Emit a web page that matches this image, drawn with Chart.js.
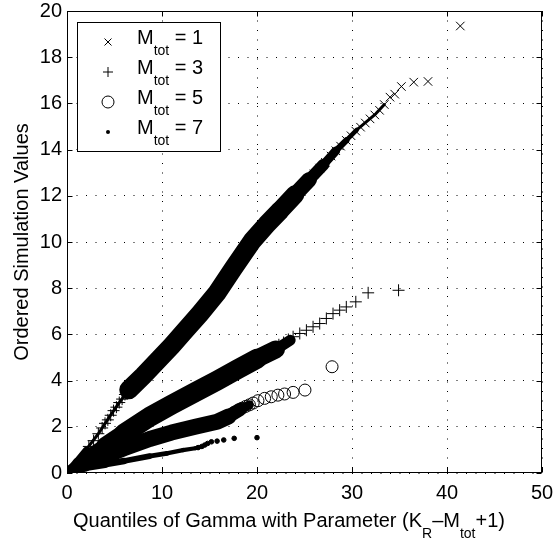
<!DOCTYPE html>
<html>
<head>
<meta charset="utf-8">
<script src="https://cdn.jsdelivr.net/npm/chart.js"></script>
<style>
  html, body { margin: 0; padding: 0; background: #fff; }
  canvas { display: block; }
</style>
</head>
<body>
<canvas id="qq" width="555" height="540"></canvas>
<script>
// axis ticks
var xTicks = [0, 10, 20, 30, 40, 50];
var yTicks = [0, 2, 4, 6, 8, 10, 12, 14, 16, 18, 20];

// legend values of M_tot
var mTot = ['1', '3', '5', '7'];

// M_tot = 1 (x): centre of the dense band, then the separate markers
var m1Band = [[0, 0], [1, 0.5], [2, 1.0], [3.3, 1.7], [4.5, 2.45], [5.5, 3.05], [6.5, 3.6], [8, 4.2],
  [9.5, 4.85], [11, 5.5], [12.5, 6.2], [14, 6.9], [15.8, 7.8], [17.5, 8.85], [19.5, 10.05], [21, 10.75],
  [22.4, 11.35], [24, 12.05], [25.5, 12.7], [27, 13.35], [28.3, 13.95], [29.4, 14.4], [30.5, 14.85],
  [31.5, 15.2], [32.5, 15.55], [33.4, 15.95]];
var m1Marks = [[26.0, 12.95], [26.6, 13.2], [27.2, 13.45], [27.8, 13.72], [28.3, 13.95], [28.8, 14.15],
  [29.4, 14.4], [29.9, 14.6], [30.4, 14.8], [30.9, 14.97], [31.4, 15.15], [31.9, 15.33], [32.4, 15.5],
  [32.9, 15.7], [33.4, 15.95], [34.0, 16.27], [34.5, 16.4], [35.2, 16.73], [36.5, 16.92], [38.0, 16.95],
  [41.4, 19.35]];

// M_tot = 3 (+)
var m3Band = [[0, 0], [2, 0.6], [4, 1.15], [6, 1.7], [8.7, 2.43], [11, 2.95], [13.5, 3.5], [15.8, 4.0],
  [18, 4.5], [20, 4.95], [22, 5.35], [23.5, 5.75]];
var m3Marks = [[2.3, 1.15], [2.8, 1.4], [3.3, 1.7], [3.7, 1.95], [4.0, 2.15], [4.3, 2.3], [4.6, 2.5],
  [4.9, 2.7], [5.2, 2.85], [5.5, 3.05], [5.8, 3.2], [6.1, 3.4], [6.4, 3.55],
  [21.8, 5.4], [22.3, 5.55], [22.8, 5.65], [23.3, 5.78], [23.8, 5.9], [24.5, 6.04], [25.2, 6.18],
  [25.9, 6.33], [26.6, 6.47], [27.3, 6.69], [28.0, 6.9], [28.7, 7.05], [29.4, 7.19], [30.4, 7.41],
  [31.7, 7.8], [34.9, 7.91]];

// M_tot = 5 (o)
var m5Band = [[0, 0], [2, 0.4], [4, 0.75], [6, 1.07], [8.7, 1.47], [11, 1.75], [13.5, 2.0], [15.8, 2.22],
  [17, 2.45], [18.2, 2.75], [19.2, 2.95]];
var m5Marks = [[17.6, 2.62], [18.0, 2.7], [18.4, 2.8], [18.8, 2.88], [19.2, 2.95], [19.6, 3.03],
  [20.1, 3.13], [20.8, 3.23], [21.5, 3.3], [22.2, 3.37], [22.9, 3.42], [23.8, 3.49], [25.05, 3.59],
  [27.9, 4.6]];

// M_tot = 7 (.)
var m7Band = [[0, 0.08], [2, 0.25], [4, 0.38], [6, 0.52], [8.7, 0.73], [10.5, 0.85], [12.2, 0.99],
  [13.5, 1.07], [14.2, 1.14]];
var m7Marks = [[13.8, 1.1], [14.2, 1.15], [14.5, 1.21], [14.8, 1.28], [15.2, 1.35], [15.8, 1.38],
  [16.5, 1.43], [17.6, 1.5], [20.0, 1.53]];

var FONT = '"Liberation Sans", Arial, Helvetica, sans-serif';
var MAIN = 20, SUB = 14;

// thickness (px) of each dense band along x
var bandWidths = {
  m1: [[0, 7], [1.8, 6], [2.2, 3], [6.2, 3], [6.8, 19], [23, 19], [25, 15], [27, 10], [29, 6], [31, 3]],
  m3: [[0, 8], [2, 14], [6, 20], [20.5, 20], [22.5, 12], [24, 5]],
  m5: [[0, 6], [2, 12], [5, 16], [17, 16], [18.5, 10], [19.5, 5]],
  m7: [[0, 9], [4, 7], [9, 5], [14, 4]]
};

function toPts(arr) {
  return arr.map(function (p) { return { x: p[0], y: p[1] }; });
}

function widthAt(profile, x) {
  if (x <= profile[0][0]) return profile[0][1];
  for (var i = 1; i < profile.length; i++) {
    if (x <= profile[i][0]) {
      var a = profile[i - 1], b = profile[i];
      return a[1] + (b[1] - a[1]) * (x - a[0]) / (b[0] - a[0]);
    }
  }
  return profile[profile.length - 1][1];
}

function band(data, profile) {
  return {
    data: toPts(data),
    showLine: true,
    pointRadius: 0,
    pointHoverRadius: 0,
    borderColor: '#000',
    borderWidth: profile[0][1],
    borderCapStyle: 'round',
    borderJoinStyle: 'round',
    segment: {
      borderWidth: function (ctx) {
        return widthAt(profile, (ctx.p0.parsed.x + ctx.p1.parsed.x) / 2);
      }
    }
  };
}

function marks(data, style, radius, fill) {
  return {
    data: toPts(data),
    showLine: false,
    pointStyle: style,
    pointRadius: radius,
    pointHoverRadius: radius,
    borderColor: '#000',
    borderWidth: 1,
    backgroundColor: fill
  };
}

// subscripted text: parts are [text, isSub]
function richWidth(ctx, parts) {
  var w = 0;
  parts.forEach(function (p) {
    ctx.font = (p[1] ? SUB : MAIN) + 'px ' + FONT;
    w += ctx.measureText(p[0]).width;
  });
  return w;
}
function richText(ctx, parts, x, y) {
  parts.forEach(function (p) {
    ctx.font = (p[1] ? SUB : MAIN) + 'px ' + FONT;
    ctx.fillText(p[0], x, y + (p[1] ? 11 : 0));
    x += ctx.measureText(p[0]).width;
  });
}

function drawSymbol(ctx, kind, x, y) {
  ctx.beginPath();
  if (kind === 0) {
    ctx.moveTo(x - 3.5, y - 3.5); ctx.lineTo(x + 3.5, y + 3.5);
    ctx.moveTo(x + 3.5, y - 3.5); ctx.lineTo(x - 3.5, y + 3.5);
    ctx.stroke();
  } else if (kind === 1) {
    ctx.moveTo(x - 5, y); ctx.lineTo(x + 5, y);
    ctx.moveTo(x, y - 5); ctx.lineTo(x, y + 5);
    ctx.stroke();
  } else if (kind === 2) {
    ctx.arc(x, y, 6, 0, Math.PI * 2);
    ctx.stroke();
  } else {
    ctx.arc(x, y, 2, 0, Math.PI * 2);
    ctx.fill();
  }
}

var frame = {
  id: 'frame',
  afterDraw: function (chart) {
    var ctx = chart.ctx, a = chart.chartArea;
    var xs = chart.scales.x, ys = chart.scales.y;
    ctx.save();
    ctx.strokeStyle = '#000';
    ctx.fillStyle = '#000';
    ctx.lineWidth = 1;
    var L = Math.round(a.left) + 0.5, R = Math.round(a.right) - 0.5;
    var T = Math.round(a.top) + 0.5, B = Math.round(a.bottom) - 0.5;
    ctx.strokeRect(L, T, R - L, B - T);
    // inward ticks on all four sides
    ctx.beginPath();
    xTicks.forEach(function (v) {
      var px = Math.round(xs.getPixelForValue(v)) + 0.5;
      ctx.moveTo(px, B); ctx.lineTo(px, B - 5);
      ctx.moveTo(px, T); ctx.lineTo(px, T + 5);
    });
    yTicks.forEach(function (v) {
      var py = Math.round(ys.getPixelForValue(v)) + 0.5;
      ctx.moveTo(L, py); ctx.lineTo(L + 5, py);
      ctx.moveTo(R, py); ctx.lineTo(R - 5, py);
    });
    ctx.stroke();

    // legend
    ctx.fillStyle = '#fff';
    ctx.fillRect(77.5, 22.5, 143, 129);
    ctx.strokeRect(77.5, 22.5, 143, 129);
    ctx.fillStyle = '#000';
    ctx.textAlign = 'left';
    ctx.textBaseline = 'alphabetic';
    mTot.forEach(function (v, i) {
      var base = 43.5 + 30 * i;
      drawSymbol(ctx, i, 108, base - 1.5);
      richText(ctx, [['M'], ['tot', 1], [' = ' + v]], 137, base);
    });

    // x axis title
    var xParts = [['Quantiles of Gamma with Parameter (K'], ['R', 1], ['\u2013M'], ['tot', 1], ['+1)']];
    var w = richWidth(ctx, xParts);
    richText(ctx, xParts, 289 - w / 2, 527);

    // y axis title
    ctx.save();
    ctx.translate(28, (a.top + a.bottom) / 2);
    ctx.rotate(-Math.PI / 2);
    ctx.font = MAIN + 'px ' + FONT;
    ctx.textAlign = 'center';
    ctx.fillText('Ordered Simulation Values', 0, 0);
    ctx.restore();
    ctx.restore();
  }
};

var tickFont = { family: FONT, size: MAIN };

new Chart(document.getElementById('qq'), {
  type: 'scatter',
  data: {
    datasets: [
      marks(m1Marks, 'crossRot', 6, 'transparent'),
      band(m1Band, bandWidths.m1),
      marks(m3Marks, 'cross', 6, 'transparent'),
      band(m3Band, bandWidths.m3),
      marks(m5Marks, 'circle', 6, 'transparent'),
      band(m5Band, bandWidths.m5),
      marks(m7Marks, 'circle', 2.3, '#000'),
      band(m7Band, bandWidths.m7)
    ]
  },
  options: {
    responsive: false,
    animation: false,
    devicePixelRatio: 1,
    events: [],
    layout: { padding: { left: 0, top: 11, right: 13, bottom: 0 } },
    plugins: { legend: { display: false }, tooltip: { enabled: false } },
    scales: {
      x: {
        type: 'linear', min: 0, max: 50,
        afterBuildTicks: function (s) { s.ticks = xTicks.map(function (v) { return { value: v }; }); },
        afterFit: function (s) { s.height = 67; s.paddingLeft = 0; s.paddingRight = 0; },
        ticks: { font: tickFont, color: '#000', padding: 8, maxRotation: 0 },
        grid: { color: '#000', lineWidth: 1, drawTicks: false },
        border: { display: false, dash: [1, 8.5] }
      },
      y: {
        type: 'linear', min: 0, max: 20,
        afterBuildTicks: function (s) { s.ticks = yTicks.map(function (v) { return { value: v }; }); },
        afterFit: function (s) { s.width = 67; s.paddingTop = 0; s.paddingBottom = 0; },
        ticks: { font: tickFont, color: '#000', padding: 5 },
        grid: { color: '#000', lineWidth: 1, drawTicks: false },
        border: { display: false, dash: [1, 8.5] }
      }
    }
  },
  plugins: [frame]
});
</script>
</body>
</html>
